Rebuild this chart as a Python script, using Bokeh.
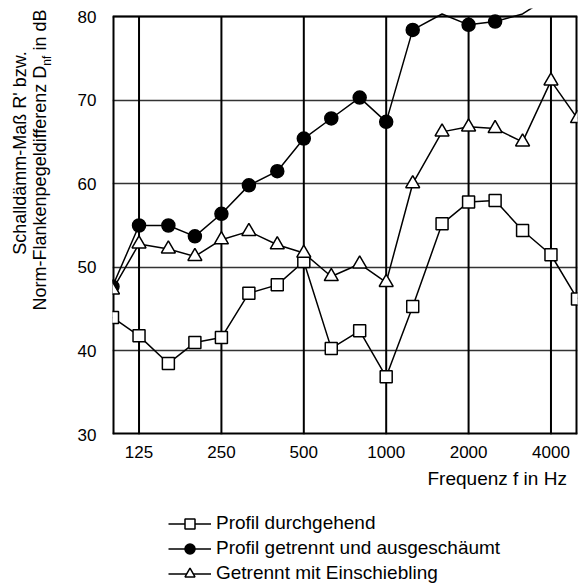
from bokeh.plotting import figure
from bokeh.layouts import row, column
from bokeh.models import FixedTicker, Legend, LegendItem, Range1d, Title, Div
from bokeh.embed import file_html
from bokeh.resources import INLINE

# Third-octave band centre frequencies (Hz)
freq = [100, 125, 160, 200, 250, 315, 400, 500, 630, 800, 1000,
        1250, 1600, 2000, 2500, 3150, 4000, 5000]
# Profil durchgehend (squares)
durchgehend = [44.0, 41.8, 38.5, 41.0, 41.6, 46.9, 47.9, 50.7, 40.3, 42.4, 36.9,
               45.3, 55.2, 57.8, 58.0, 54.4, 51.5, 46.2]
# Profil getrennt und ausgeschäumt (filled circles)
ausgeschaeumt = [47.7, 55.0, 55.0, 53.7, 56.4, 59.8, 61.5, 65.4, 67.8, 70.3, 67.4,
                 78.4, 80.3, 79.0, 79.4, 80.3, 82.5, 81.5]
# Getrennt mit Einschiebling (triangles)
einschiebling = [47.3, 52.8, 52.2, 51.3, 53.3, 54.3, 52.7, 51.7, 48.9, 50.4, 48.2,
                 60.0, 66.2, 66.8, 66.6, 65.0, 72.3, 67.8]

x_ticks = [125, 250, 500, 1000, 2000, 4000]
y_ticks = [30, 40, 50, 60, 70, 80]
series_labels = ["Profil durchgehend", "Profil getrennt und ausgeschäumt",
                 "Getrennt mit Einschiebling"]
x_title = "Frequenz f in Hz"
y_title_1 = "Schalldämm-Maß R' bzw."
y_title_2a = "Norm-Flankenpegeldifferenz D"
y_title_2sub = "nf"
y_title_2b = "in dB"

FONT = "Liberation Sans"
X_MIN, X_MAX = 100, 5000
Y_MIN, Y_MAX = 30, 80
PLOT_H = 418                       # pixel height of the 30..80 box
HEADROOM = 8                       # pixels above the box where lines may run out
Y_TOP = Y_MAX + HEADROOM * (Y_MAX - Y_MIN) / PLOT_H
TOP_H = 496      # height of the chart row
LEG_H = 92       # height of the legend strip

# ---------------- left strip holding the two-line y title (HTML text) ----------------
rot = "transform:translate(-50%,-50%) rotate(-90deg);white-space:nowrap;position:absolute;"
title_html = (
    f'<div style="position:relative;width:56px;height:{TOP_H}px;'
    f'font-family:\'{FONT}\',Arial,sans-serif;font-size:18px;color:#000;line-height:1;">'
    f'<div style="{rot}left:20px;top:153px;">{y_title_1}</div>'
    f'<div style="{rot}left:42px;top:160px;">{y_title_2a}'
    f'<sub style="font-size:12px;line-height:1;">{y_title_2sub}</sub> {y_title_2b}</div>'
    '</div>'
)
tdiv = Div(text=title_html, width=56, height=TOP_H, margin=0)

# ---------------- main chart ----------------
p = figure(x_axis_type="log", x_range=Range1d(X_MIN, X_MAX), y_range=Range1d(Y_MIN, Y_TOP),
           frame_width=465, frame_height=PLOT_H + HEADROOM,
           min_border_left=56, min_border_right=7, min_border_top=16 - HEADROOM,
           min_border_bottom=TOP_H - 16 - PLOT_H,
           output_backend="svg", toolbar_location=None)
p.background_fill_color = "white"
p.border_fill_color = "white"
p.outline_line_color = None

p.xaxis.ticker = FixedTicker(ticks=x_ticks, minor_ticks=[])
p.xaxis.major_label_overrides = {t: str(t) for t in x_ticks}
p.yaxis.ticker = FixedTicker(ticks=y_ticks, minor_ticks=[])
for ax in (p.xaxis, p.yaxis):
    ax.axis_line_color = None
    ax.major_tick_line_color = None
    ax.minor_tick_line_color = None
    ax.major_tick_out = 0
    ax.minor_tick_out = 0
    ax.major_label_text_font = FONT
    ax.major_label_text_font_size = "17px"
    ax.major_label_text_color = "black"
p.xaxis.major_label_standoff = 11
p.yaxis.major_label_standoff = 16

# horizontal grid from the library; vertical grid lines limited to the 30..80 box
p.xgrid.visible = False
p.ygrid.ticker = FixedTicker(ticks=y_ticks, minor_ticks=[])
p.ygrid.grid_line_color = "#333333"
p.ygrid.grid_line_width = 1.5
p.segment(x0=x_ticks, x1=x_ticks, y0=[Y_MIN] * len(x_ticks), y1=[Y_MAX] * len(x_ticks),
          line_color="black", line_width=2)

# chart box (30..80 dB, 100..5000 Hz): left, right, bottom, top edges
p.segment(x0=[X_MIN, X_MAX, X_MIN, X_MIN], x1=[X_MIN, X_MAX, X_MAX, X_MAX],
          y0=[Y_MIN, Y_MIN, Y_MIN, Y_MAX], y1=[Y_MAX, Y_MAX, Y_MIN, Y_MAX],
          line_color="black", line_width=[4, 4, 4, 2])

specs = [
    (durchgehend, "square", "white", 12),
    (ausgeschaeumt, "circle", "black", 13),
    (einschiebling, "triangle", "white", 14),
]


def visible_points(vals):
    fx = [f for f, v in zip(freq, vals) if Y_MIN <= v <= Y_MAX]
    fy = [v for v in vals if Y_MIN <= v <= Y_MAX]
    return fx, fy


for vals, marker, fill, size in specs:
    p.line(freq, vals, line_color="black", line_width=1.5)
    fx, fy = visible_points(vals)
    p.scatter(fx, fy, marker=marker, size=size, fill_color=fill,
              line_color="black", line_width=1.5)

xt = Title(text=x_title, align="left", offset=315, standoff=10,
           text_font=FONT, text_font_size="19px", text_font_style="normal",
           text_color="black")
p.add_layout(xt, "below")

# ---------------- legend strip (same series, drawn outside its own view) ----------------
lf = figure(width=584, height=LEG_H, x_range=Range1d(0, 1), y_range=Range1d(0, 1),
            x_axis_location=None, y_axis_location=None, min_border=0,
            output_backend="svg", toolbar_location=None)
lf.outline_line_color = None
lf.grid.visible = False
lf.background_fill_color = "white"
lf.border_fill_color = "white"
leg_items = []
for (vals, marker, fill, size), lab in zip(specs, series_labels):
    ln = lf.line(freq, vals, line_color="black", line_width=1.5)
    fx, fy = visible_points(vals)
    sc = lf.scatter(fx, fy, marker=marker, size=size, fill_color=fill,
                    line_color="black", line_width=1.5)
    leg_items.append(LegendItem(label=lab, renderers=[ln, sc]))

legend = Legend(items=leg_items, location=(168, 2.5), orientation="vertical",
                padding=0, margin=0, spacing=0,
                glyph_width=43, glyph_height=25, label_height=25,
                label_standoff=5,
                label_text_font=FONT, label_text_font_size="19px",
                label_text_color="black", label_text_baseline="middle",
                background_fill_alpha=0, border_line_alpha=0)
lf.add_layout(legend, "center")

layout = column(row(tdiv, p), lf)
open("out.html", "w", encoding="utf-8").write(file_html(layout, INLINE))
